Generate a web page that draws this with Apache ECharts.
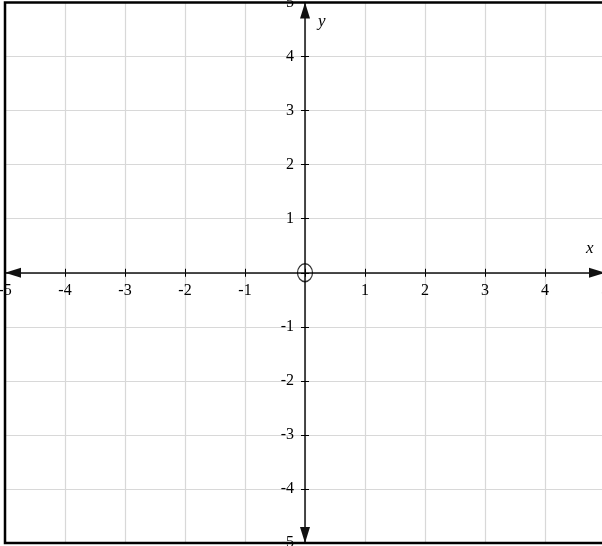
<!DOCTYPE html>
<html>
<head>
<meta charset="utf-8">
<script src="https://cdn.jsdelivr.net/npm/echarts@6/dist/echarts.min.js"></script>
<style>html,body{margin:0;padding:0;background:#fff}#c{width:602px;height:546px}</style>
</head>
<body>
<div id="c"></div>
<script>
const xRange = [-5, 5];
const yRange = [-5, 5];
const tickStep = 1;
const originPoint = [[0, 0]];
const xName = 'x';
const yName = 'y';

const font = 'Liberation Serif, Times New Roman, serif';
const gridBox = { left: 5, top: 2.5, width: 600, height: 540.5 };
// shift axes from grid edge to the zero line
const xAxisShift = -gridBox.height * (0 - yRange[0]) / (yRange[1] - yRange[0]);
const yAxisShift = -gridBox.width * (0 - xRange[0]) / (xRange[1] - xRange[0]);

const chart = echarts.init(document.getElementById('c'));
const hideZero = v => (v === 0 ? '' : String(v));

chart.setOption({
  animation: false,
  grid: Object.assign({ show: true, z: 4, borderColor: '#000', borderWidth: 2.5, backgroundColor: 'transparent', containLabel: false, outerBoundsMode: 'none' }, gridBox),
  xAxis: [{
    type: 'value', min: xRange[0], max: xRange[1], interval: tickStep, position: 'bottom', offset: xAxisShift,
    axisLine: { onZero: false, lineStyle: { color: '#111', width: 1.5 }, symbol: ['triangle', 'triangle'], symbolSize: [10, 16], symbolOffset: [8, -8] },
    axisTick: { show: true, length: 4, lineStyle: { color: '#000', width: 1 } },
    axisLabel: { formatter: hideZero, color: '#000', fontFamily: font, fontSize: 16, margin: 10, showMinLabel: true, showMaxLabel: true, hideOverlap: false },
    splitLine: { show: true, lineStyle: { color: '#d8d8d8', width: 1.2 } },
    name: xName, nameLocation: 'end', nameGap: -19, nameMoveOverlap: false,
    nameTextStyle: { fontFamily: font, fontStyle: 'italic', fontSize: 17, color: '#000', align: 'left', verticalAlign: 'bottom', padding: [0, 0, 16, 0] }
  }, {
    type: 'value', min: xRange[0], max: xRange[1], interval: tickStep, position: 'top', offset: xAxisShift,
    axisLine: { show: false, onZero: false },
    axisTick: { show: true, length: 4, lineStyle: { color: '#000', width: 1 } },
    axisLabel: { show: false }, splitLine: { show: false }
  }],
  yAxis: [{
    type: 'value', min: yRange[0], max: yRange[1], interval: tickStep, position: 'left', offset: yAxisShift,
    axisLine: { onZero: false, lineStyle: { color: '#111', width: 1.5 }, symbol: ['triangle', 'triangle'], symbolSize: [10, 16], symbolOffset: [8, -8] },
    axisTick: { show: true, length: 4, lineStyle: { color: '#000', width: 1 } },
    axisLabel: { formatter: hideZero, color: '#000', fontFamily: font, fontSize: 16, margin: 11, showMinLabel: true, showMaxLabel: true, hideOverlap: false },
    splitLine: { show: true, lineStyle: { color: '#d8d8d8', width: 1.2 } },
    name: yName, nameLocation: 'end', nameGap: -19.5, nameMoveOverlap: false,
    nameTextStyle: { fontFamily: font, fontStyle: 'italic', fontSize: 17, color: '#000', align: 'left', verticalAlign: 'middle', padding: [0, 0, 0, 13] }
  }, {
    type: 'value', min: yRange[0], max: yRange[1], interval: tickStep, position: 'right', offset: yAxisShift,
    axisLine: { show: false, onZero: false },
    axisTick: { show: true, length: 4, lineStyle: { color: '#000', width: 1 } },
    axisLabel: { show: false }, splitLine: { show: false }
  }],
  series: [{
    type: 'scatter', xAxisIndex: 0, yAxisIndex: 0,
    data: originPoint, symbol: 'circle', symbolSize: [15, 18],
    itemStyle: { color: 'rgba(0,0,0,0)', borderColor: '#000', borderWidth: 1.3 },
    silent: true, z: 5
  }]
});
</script>
</body>
</html>
